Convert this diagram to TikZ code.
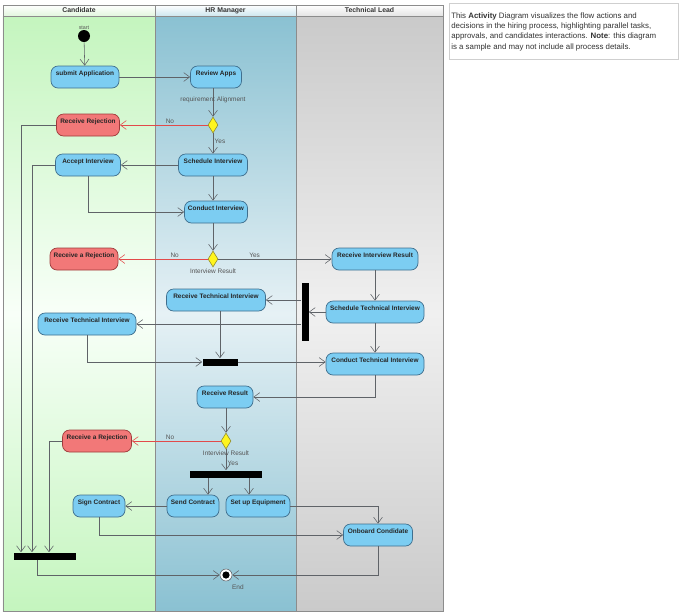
\documentclass[tikz,border=0pt]{standalone}
\usepackage{fontspec}
\setmainfont{Liberation Sans}
\usetikzlibrary{positioning, arrows.meta, shapes.geometric, calc}
\definecolor{CandTop}{HTML}{C4F5BE}
\definecolor{CandMid}{HTML}{F8FFF8}
\definecolor{CandHead}{HTML}{E2F6DE}
\definecolor{HRTop}{HTML}{8AC1D2}
\definecolor{HRMid}{HTML}{E6F1F5}
\definecolor{HRHead}{HTML}{CDE6EF}
\definecolor{TechTop}{HTML}{CACACA}
\definecolor{TechMid}{HTML}{F0F0F0}
\definecolor{TechHead}{HTML}{E4E4E4}
\definecolor{LaneLine}{HTML}{8C8C8C}
\definecolor{ActFill}{HTML}{7CCDF2}
\definecolor{ActLine}{HTML}{3F6F8E}
\definecolor{RejFill}{HTML}{F27878}
\definecolor{RejLine}{HTML}{9E3B3B}
\definecolor{DecFill}{HTML}{FFF51E}
\definecolor{DecLine}{HTML}{8F8A2A}
\definecolor{Flow}{HTML}{5F6368}
\definecolor{RedFlow}{HTML}{E24A4A}
\definecolor{GrayA}{HTML}{555555}
\definecolor{NoteLine}{HTML}{CFCFCF}
\definecolor{NoteText}{HTML}{333333}
\newcommand{\actfont}{\fontsize{4.6}{5.5}\selectfont\bfseries}
\newcommand{\lblfont}{\fontsize{4.6}{5.5}\selectfont}
\newcommand{\headfont}{\fontsize{4.9}{5.8}\selectfont\bfseries}
\newcommand{\notefont}{\fontsize{5.6}{7.3}\selectfont}
\tikzset{
  act/.style={draw=ActLine, fill=ActFill, rounded corners=5pt, align=center,
              font=\actfont, text=black!85, minimum height=0.55cm, inner sep=1pt,
              text height=4pt, text depth=5.5pt, line width=0.5pt},
  rej/.style={act, draw=RejLine, fill=RejFill},
  dec/.style={diamond, draw=DecLine, fill=DecFill, inner sep=0pt,
              minimum width=0.25cm, minimum height=0.4cm, line width=0.4pt},
  bar/.style={fill=black, inner sep=0pt},
  startnode/.style={circle, fill=black, minimum size=0.3cm, inner sep=0pt},
  endnode/.style={circle, draw=Flow, fill=white, minimum size=0.3cm, inner sep=0pt,
                  path picture={\fill[black] (path picture bounding box.center) circle (0.09);}},
  arr/.style={-{Straight Barb[length=1.5mm, width=2.2mm]}, draw=Flow, line width=0.4pt},
  rarr/.style={arr, draw=RedFlow},
  lbl/.style={font=\lblfont, text=GrayA, inner sep=1pt},
  head/.style={draw=LaneLine, font=\headfont, text=black!80, minimum height=0.275cm,
               inner sep=0pt, line width=0.5pt},
  lane/.style={draw=LaneLine, line width=0.5pt},
  notebox/.style={draw=NoteLine, fill=white, minimum width=5.725cm, minimum height=1.4cm,
                  inner sep=0pt, anchor=north west},
  notetext/.style={font=\notefont, text=NoteText, align=left, inner sep=0pt, anchor=north west},
}

\begin{document}
\begin{tikzpicture}
  \useasboundingbox (0,0) rectangle (17,-15.375);

  % swimlanes
  \shade[top color=CandTop, bottom color=CandTop, middle color=CandMid] (0.075,-0.4) rectangle (3.875,-15.275);
  \shade[top color=HRTop, bottom color=HRTop, middle color=HRMid] (3.875,-0.4) rectangle (7.4,-15.275);
  \shade[top color=TechTop, bottom color=TechTop, middle color=TechMid] (7.4,-0.4) rectangle (11.075,-15.275);
  \draw[lane] (0.075,-0.4) rectangle (3.875,-15.275);
  \draw[lane] (3.875,-0.4) rectangle (7.4,-15.275);
  \draw[lane] (7.4,-0.4) rectangle (11.075,-15.275);
  \node[head, top color=white, bottom color=CandHead, minimum width=3.8cm]  (hCand) at (1.975,-0.2625) {Candidate};
  \node[head, top color=white, bottom color=HRHead, minimum width=3.525cm]  (hHR)   at (5.6375,-0.2625) {HR Manager};
  \node[head, top color=white, bottom color=TechHead, minimum width=3.675cm] (hTech) at (9.2375,-0.2625) {Technical Lead};

  % note
  \node[notebox] (note) at (11.225,-0.075) {};
  \node[notetext] (noteText) at (11.275,-0.31)
    {This \textbf{Activity} Diagram visualizes the flow actions and\\
     decisions in the hiring process, highlighting parallel tasks,\\
     approvals, and candidates interactions. \textbf{Note}: this diagram\\
     is a sample and may not include all process details.};

  % actions
  \node[startnode, label={[lbl, inner sep=0pt, font=\fontsize{3.8}{4}\selectfont]above:start}] (start) at (2.1,-0.9) {};
  \node[act, minimum width=1.7cm]   (submit)     at (2.125,-1.925) {submit Application};
  \node[act, minimum width=1.275cm] (review)     at (5.4,-1.925)   {Review Apps};
  \node[dec]                        (decApps)    at (5.325,-3.125) {};
  \node[rej, minimum width=1.575cm] (rejApps)    at (2.2,-3.125)   {Receive Rejection};
  \node[act, minimum width=1.725cm] (schedInt)   at (5.325,-4.125) {Schedule Interview};
  \node[act, minimum width=1.625cm] (acceptInt)  at (2.2,-4.125)   {Accept Interview};
  \node[act, minimum width=1.575cm] (conductInt) at (5.4,-5.3)     {Conduct Interview};
  \node[dec, label={[lbl]below:Interview Result}] (decInt) at (5.325,-6.475) {};
  \node[rej, minimum width=1.7cm]   (rejInt)     at (2.1,-6.475)   {Receive a Rejection};
  \node[act, minimum width=2.15cm]  (recvResult) at (9.375,-6.475) {Receive Interview Result};
  \node[bar, minimum width=0.175cm, minimum height=1.45cm] (forkTech) at (7.625,-7.8) {};
  \node[act, minimum width=2.475cm] (recvTechHR)   at (5.4,-7.5)   {Receive Technical Interview};
  \node[act, minimum width=2.45cm]  (schedTech)    at (9.375,-7.8) {Schedule Technical Interview};
  \node[act, minimum width=2.45cm]  (recvTechCand) at (2.175,-8.1) {Receive Technical Interview};
  \node[bar, minimum width=0.875cm, minimum height=0.175cm] (joinTech) at (5.5,-9.05) {};
  \node[act, minimum width=2.45cm]  (conductTech) at (9.375,-9.1)  {Conduct Technical Interview};
  \node[act, minimum width=1.4cm]   (recvRes)     at (5.625,-9.925) {Receive Result};
  \node[dec, label={[lbl]below:Interview Result}] (decTech) at (5.65,-11.025) {};
  \node[rej, minimum width=1.725cm] (rejTech)     at (2.425,-11.025) {Receive a Rejection};
  \node[bar, minimum width=1.8cm, minimum height=0.175cm] (forkHire) at (5.65,-11.85) {};
  \node[act, minimum width=1.3cm]   (sendContract) at (4.825,-12.65) {Send Contract};
  \node[act, minimum width=1.6cm]   (setupEquip)   at (6.45,-12.65)  {Set up Equipment};
  \node[act, minimum width=1.3cm]   (signContract) at (2.475,-12.65) {Sign Contract};
  \node[act, minimum width=1.725cm] (onboard)      at (9.45,-13.375) {Onboard Condidate};
  \node[bar, minimum width=1.55cm, minimum height=0.175cm] (joinEnd) at (1.125,-13.9) {};
  \node[endnode, label={[lbl, yshift=-0.1cm]below right:End}] (end) at (5.65,-14.375) {};

  % flows
  \draw[arr] (start) -- (submit);
  \draw[arr] (submit) -- (review);
  \draw[arr] (decApps |- review.south) -- node[lbl, pos=0.4]{requirement Alignment} (decApps.north);
  \draw[rarr] (decApps) -- node[lbl, above, pos=0.43]{No} (rejApps);
  \draw[arr] (decApps) -- node[lbl, right, pos=0.4]{Yes} (schedInt);
  \draw[arr] (schedInt) -- (acceptInt);
  \draw[arr] (schedInt) -- (schedInt |- conductInt.north);
  \draw[arr] (acceptInt.south) |- (conductInt.west);
  \draw[arr] (decInt |- conductInt.south) -- (decInt.north);
  \draw[rarr] (decInt) -- node[lbl, above, pos=0.37]{No} (rejInt);
  \draw[arr] (decInt) -- node[lbl, above, pos=0.32]{Yes} (recvResult);
  \draw[arr] (recvResult) -- (schedTech);
  \draw[arr] (schedTech) -- (schedTech -| forkTech.east);
  \draw[arr] (forkTech.west |- recvTechHR) -- (recvTechHR.east);
  \draw[arr] (forkTech.west |- recvTechCand) -- (recvTechCand.east);
  \draw[arr] (schedTech) -- (conductTech);
  \draw[arr] (joinTech |- recvTechHR.south) -- (joinTech.north);
  \draw[arr] (recvTechCand.south) |- (joinTech.west);
  \draw[arr] (joinTech.east) -- (joinTech.east -| conductTech.west);
  \draw[arr] (conductTech.south) |- (recvRes.east);
  \draw[arr] (decTech |- recvRes.south) -- (decTech.north);
  \draw[rarr] (decTech) -- node[lbl, above, pos=0.57]{No} (rejTech);
  \draw[arr] (decTech) -- node[lbl, right, pos=0.65]{Yes} (forkHire);
  \draw[arr] ([xshift=-0.45cm]forkHire.south) -- ([xshift=-0.45cm]forkHire.south |- sendContract.north);
  \draw[arr] ([xshift=0.575cm]forkHire.south) -- ([xshift=0.575cm]forkHire.south |- setupEquip.north);
  \draw[arr] (sendContract) -- (signContract);
  \draw[arr] (setupEquip.east) -| (onboard.north);
  \draw[arr] (signContract.south) |- (onboard.west);
  \draw[arr] (onboard.south) |- (end.east);
  \draw[arr] ([xshift=-0.2cm]joinEnd.south) |- (end.west);
  \draw[arr] (rejApps.west) -| ([xshift=-0.6cm]joinEnd.north);
  \draw[arr] (acceptInt.west) -| ([xshift=-0.325cm]joinEnd.north);
  \draw[arr] (rejTech.west) -| ([xshift=0.1cm]joinEnd.north);
\end{tikzpicture}
\end{document}
